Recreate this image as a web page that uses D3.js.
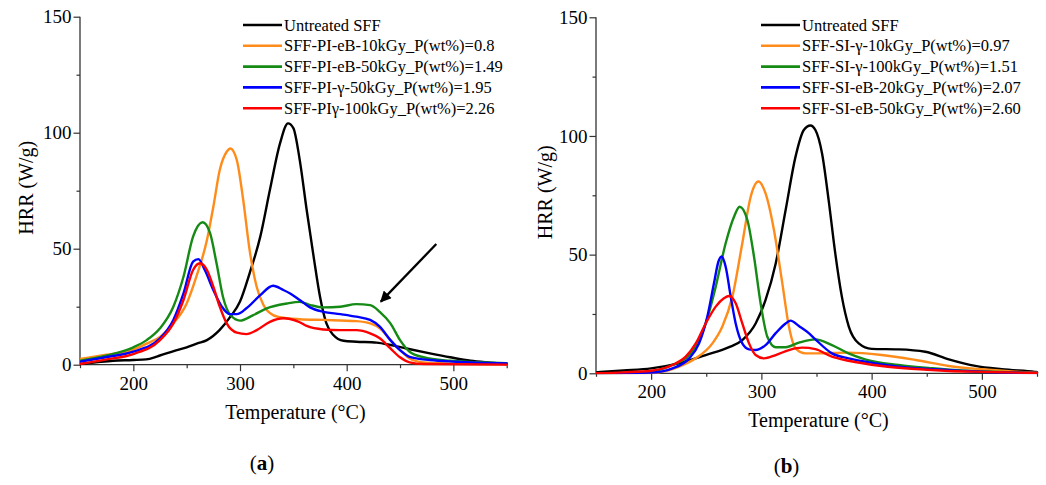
<!DOCTYPE html>
<html>
<head>
<meta charset="utf-8">
<script src="https://cdn.jsdelivr.net/npm/d3@7/dist/d3.min.js"></script>
<style>
  html, body { margin: 0; padding: 0; background: #fff; }
  svg { display: block; }
</style>
</head>
<body>
<svg id="chart" width="1046" height="485"></svg>
<script>
// ---------------- DATA ----------------
const xTicksMajor = [200, 300, 400, 500];
const xTicksMinor = [150, 250, 350, 450, 550];
const yTicksMajor = [0, 50, 100, 150];
const yTicksMinor = [25, 75, 125];
const xTitle = "Temperature (°C)";
const yTitle = "HRR (W/g)";
const panelLabels = ["a", "b"];

const legendA = [
  "Untreated SFF",
  "SFF-PI-eB-10kGy_P(wt%)=0.8",
  "SFF-PI-eB-50kGy_P(wt%)=1.49",
  "SFF-PI-γ-50kGy_P(wt%)=1.95",
  "SFF-PIγ-100kGy_P(wt%)=2.26"
];
const legendB = [
  "Untreated SFF",
  "SFF-SI-γ-10kGy_P(wt%)=0.97",
  "SFF-SI-γ-100kGy_P(wt%)=1.51",
  "SFF-SI-eB-20kGy_P(wt%)=2.07",
  "SFF-SI-eB-50kGy_P(wt%)=2.60"
];
const seriesColors = ["#000000", "#ff8c1a", "#158a15", "#0000ff", "#ff0000"];

// Panel (a) series: [temperature, HRR]
const untreatedA = [[150,0.3],[165,1.0],[181,1.7],[200,2.0],[212,2.3],[222,3.5],[231,4.9],[240,6.2],[250,7.5],[260,9.2],[269,10.6],[281,15],[291,20.7],[300,27.2],[309,39.4],[319,55.2],[328,75.3],[337.5,95.4],[345,104],[350,102],[356,88.2],[362.5,66.7],[369,46.6],[375,29.3],[381,17.8],[387.5,12.8],[397,10.3],[409,9.9],[428,9.5],[441,8.5],[456,7.0],[478,4.9],[497,3.2],[516,1.7],[534,0.9],[550,0.3]];
const orangeA = [[150,2.5],[175,4.3],[200,6.5],[212,9],[225,12],[237.5,17.8],[250,26.4],[259,37.9],[269,53.7],[275,68.1],[281,83.9],[287.5,91.8],[291,93.2],[297,88.2],[303,71],[309,49.4],[315.6,33.6],[322,25.7],[331,21.4],[344,20],[356,19.6],[378,19.3],[409,18.8],[422,17.8],[431,15.7],[441,10.6],[450,6.3],[459,2.7],[472,1.0],[488,0.6],[550,0.2]];
const greenA = [[150,1.7],[175,4],[200,7.5],[212.5,10.6],[225,15.7],[237.5,25],[247,37.9],[256,55.2],[265,61.4],[272,56.6],[278,43.7],[284,29.3],[291,21.4],[300,19],[312.5,21.4],[325,24.3],[344,26.4],[356,27.1],[366,25.7],[378,24.7],[394,25],[409,26.1],[422,25.7],[431,22.8],[441,17.8],[450,10.6],[459,5.6],[472,3.2],[497,1.7],[522,1.1],[550,0.6]];
const blueA = [[150,1.3],[175,3.3],[200,5.6],[225,11.4],[237.5,19.3],[247,30.7],[256,44.4],[261,45.5],[267,40.8],[275,32.2],[283,25],[290.6,21.8],[297,21.8],[306,24.3],[319,30],[331,34],[340.6,32.2],[347,30.7],[356,27.9],[365.6,24.7],[378,22.8],[394,21.8],[409,20.7],[422,19.3],[431,16.4],[441,10.6],[450,6.3],[459,3.4],[478,2.0],[503,1.3],[550,0.5]];
const redA = [[150,0.3],[175,2.3],[200,4.6],[225,10.6],[237.5,17.8],[247,27.9],[256,40.8],[262.5,43.7],[269,40.8],[275,33.6],[281,25],[287.5,17.8],[297,13.8],[306,13.2],[315.6,14.9],[328,18.5],[341,20],[347,19.7],[356,18.3],[362.5,16.7],[378,15.2],[394,14.9],[409,14.9],[422,13.5],[431,11.4],[441,7.0],[450,3.2],[459,1.0],[472,0.3],[550,0]];

// Panel (b) series
const untreatedB = [[150,0.4],[175,1.2],[200,2.1],[225,4.2],[249.5,7.7],[270.7,11],[282.7,14],[294.8,21],[303.8,30.9],[313,46.3],[322,68.8],[331,91.3],[338.5,102.5],[344.5,104.4],[349,102.5],[355,92.7],[361,73],[367,50.6],[373,32.3],[379.3,19.7],[388.3,12.6],[400,10.3],[424.5,10.1],[448.6,9.1],[470,5.9],[494,3.1],[518,1.7],[548,0.6],[550,0.5]];
const orangeB = [[150,0],[200,0],[212,0.8],[225.4,2.8],[240.5,6.3],[255.6,12.6],[264.6,19.7],[273.7,32.3],[282.7,54.8],[290.3,74.4],[297.2,80.8],[303.8,75.8],[311.4,60.4],[319,37.9],[325,19.7],[331,10.5],[340,8.4],[349,8.4],[379,8.7],[409,7.7],[440,5.6],[470,3.1],[500,1.7],[530,0.7],[550,0.3]];
const greenB = [[150,0],[175,0.2],[200,0.7],[219.4,3.5],[231.4,6.3],[240.5,11.2],[249.5,21],[258.6,36.5],[267.6,54.8],[275.2,66],[280.3,70.2],[287.3,64.6],[293.3,49.2],[299.3,29.5],[305.4,15.4],[313,11],[322,11],[334,12.9],[349,14.3],[364,11.9],[379,8.4],[394,5.9],[424.5,3.5],[455,2.1],[485,1.1],[515,0.6],[550,0.2]];
const blueB = [[150,0],[200,0.3],[219.4,2.1],[234.5,6.3],[243.5,12.6],[251,23.9],[257,37.9],[261,47],[264,49.2],[267.6,44.9],[272.2,32.3],[276.7,21],[282.7,12.6],[288.8,10.1],[294.8,9.8],[303.8,11.9],[313,16.9],[322,21],[326.5,22.2],[334,19.9],[343,16.9],[349,14.3],[364,8.4],[379,6.3],[394,4.9],[424.5,2.8],[455,1.7],[485,1.0],[515,0.4],[550,0.1]];
const redB = [[150,0],[175,0.4],[200,1.1],[219.4,3.5],[231.4,7],[240.5,12.6],[249.5,21],[258.6,28.1],[266,31.6],[270.7,32.6],[276.7,29.5],[282.7,21],[288.8,12.6],[294.8,7.7],[302.3,6.3],[313,7.7],[325,9.8],[337,10.8],[349,10.2],[364,7],[379,5.3],[409,3.1],[440,1.8],[470,1.0],[500,0.6],[550,0.1]];

// Arrow annotation in panel (a): [start, tip] in data units
const arrowA = [[484, 52], [432, 27.2]];

// ---------------- DRAW ----------------
const FONT = "'Liberation Serif', 'Times New Roman', Times, serif";
const svg = d3.select("#chart").style("font-family", FONT);
const defs = svg.append("defs");
defs.append("marker")
  .attr("id", "arrowhead")
  .attr("viewBox", "0 0 10 10")
  .attr("refX", 9).attr("refY", 5)
  .attr("markerWidth", 5.6).attr("markerHeight", 4.8)
  .attr("markerUnits", "strokeWidth")
  .attr("orient", "auto")
  .append("path").attr("d", "M0,0 L10,5 L0,10 Z").attr("fill", "#000");

function txt(sel) {
  return sel.style("font-family", FONT).attr("fill", "#000");
}

function drawPanel(cfg) {
  const g = svg.append("g");
  const x = d3.scaleLinear().domain([150, 550]).range([cfg.x0, cfg.x1]);
  const y = d3.scaleLinear().domain([0, 150]).range([cfg.y0, cfg.y1]);

  const clipId = "clip" + cfg.id;
  defs.append("clipPath").attr("id", clipId).append("rect")
    .attr("x", cfg.x0).attr("y", cfg.y1 - 5).attr("width", cfg.x1 - cfg.x0 + 2).attr("height", cfg.y0 - cfg.y1 + 6);

  const xAxis = d3.axisBottom(x).tickValues(xTicksMajor).tickSize(6.5).tickPadding(5).tickFormat(d3.format("d"));
  const xAxisMinor = d3.axisBottom(x).tickValues(xTicksMinor).tickSize(3.5).tickFormat("");
  const yAxis = d3.axisLeft(y).tickValues(yTicksMajor).tickSize(6.5).tickPadding(2).tickFormat(d3.format("d"));
  const yAxisMinor = d3.axisLeft(y).tickValues(yTicksMinor).tickSize(3.5).tickFormat("");

  function styleAxis(sel) {
    sel.attr("font-family", null);
    sel.select(".domain").attr("stroke", "#333").attr("stroke-width", 1.3);
    sel.selectAll(".tick line").attr("stroke", "#333").attr("stroke-width", 1.2);
    sel.selectAll("text").call(txt).attr("font-size", cfg.tickFont);
  }
  g.append("g").attr("transform", `translate(0,${cfg.y0})`).call(xAxisMinor).call(styleAxis)
    .select(".domain").remove();
  g.append("g").attr("transform", `translate(${cfg.x0},0)`).call(yAxisMinor).call(styleAxis)
    .select(".domain").remove();
  g.append("g").attr("transform", `translate(0,${cfg.y0})`).call(xAxis).call(styleAxis)
    .call(s => s.select(".domain").attr("d", `M${cfg.x0},0H${cfg.x1}`));
  g.append("g").attr("transform", `translate(${cfg.x0},0)`).call(yAxis).call(styleAxis)
    .call(s => s.select(".domain").attr("d", `M0,${cfg.y0}V${cfg.y1}`));

  g.append("text").call(txt).attr("x", (cfg.x0 + cfg.x1) / 2 + 2).attr("y", cfg.xTitleY)
    .attr("text-anchor", "middle").attr("font-size", cfg.titleFont).text(xTitle);
  g.append("text").call(txt)
    .attr("transform", `translate(${cfg.yTitleX},${(cfg.y0 + cfg.y1) / 2 - 3}) rotate(-90)`)
    .attr("text-anchor", "middle").attr("font-size", cfg.titleFont).text(yTitle);

  const pl = g.append("text").call(txt).attr("x", cfg.labelX).attr("y", cfg.labelY)
    .attr("text-anchor", "middle").attr("font-size", 21);
  pl.append("tspan").text("(");
  pl.append("tspan").attr("font-weight", "bold").text(cfg.label);
  pl.append("tspan").text(")");

  const line = d3.line().x(d => x(d[0])).y(d => y(d[1])).curve(d3.curveMonotoneX);
  const lg = g.append("g").attr("clip-path", `url(#${clipId})`);
  cfg.series.forEach((s, i) => {
    lg.append("path").datum(s).attr("d", line)
      .attr("fill", "none").attr("stroke", seriesColors[i])
      .attr("stroke-width", 2.4).attr("stroke-linejoin", "round").attr("stroke-linecap", "round");
  });

  const leg = g.append("g");
  cfg.legend.forEach((name, i) => {
    const yy = cfg.legY + i * 20.8;
    leg.append("line").attr("x1", cfg.legX).attr("x2", cfg.legX + 39)
      .attr("y1", yy).attr("y2", yy).attr("stroke", seriesColors[i]).attr("stroke-width", 2.6);
    leg.append("text").call(txt).attr("x", cfg.legX + 41).attr("y", yy + 5.6)
      .attr("font-size", 16.5).text(name);
  });

  if (cfg.arrow) {
    g.append("line")
      .attr("x1", x(cfg.arrow[0][0])).attr("y1", y(cfg.arrow[0][1]))
      .attr("x2", x(cfg.arrow[1][0])).attr("y2", y(cfg.arrow[1][1]))
      .attr("stroke", "#000").attr("stroke-width", 2.3)
      .attr("marker-end", "url(#arrowhead)");
  }
}

drawPanel({
  id: "A", x0: 80, x1: 506.7, y0: 364.7, y1: 16.7,
  tickFont: 19, titleFont: 20, xTitleY: 419, yTitleX: 33,
  label: panelLabels[0], labelX: 262, labelY: 470,
  series: [untreatedA, orangeA, greenA, blueA, redA],
  legend: legendA, legX: 243, legY: 25, arrow: arrowA
});
drawPanel({
  id: "B", x0: 596, x1: 1037, y0: 373.3, y1: 17.3,
  tickFont: 19, titleFont: 20, xTitleY: 426.5, yTitleX: 552,
  label: panelLabels[1], labelX: 786.5, labelY: 473,
  series: [untreatedB, orangeB, greenB, blueB, redB],
  legend: legendB, legX: 761, legY: 25, arrow: null
});
</script>
</body>
</html>
